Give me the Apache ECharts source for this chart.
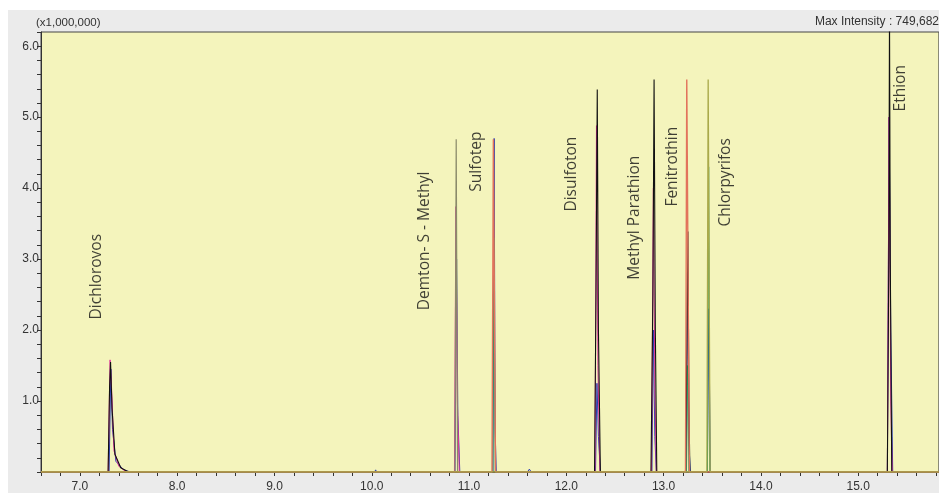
<!DOCTYPE html>
<html>
<head>
<meta charset="utf-8">
<script src="https://cdn.jsdelivr.net/npm/echarts@6/dist/echarts.min.js"></script>
<style>
	html, body { margin: 0; padding: 0; background: #fff; }
	#chart { width: 939px; height: 493px; }
</style>
</head>
<body>
<div id="chart"></div>
<script>
// retention time (min) vs intensity (x1,000,000), one array per trace colour
const blackTrace = [
	[6.6, 0], [7.29, 0], [7.305, 1.2], [7.315, 1.55], [7.33, 0.9], [7.36, 0.25], [7.42, 0.06], [7.5, 0],
	[12.29, 0], [12.305, 2.5], [12.318, 5.39], [12.33, 2.0], [12.35, 0],
	[12.87, 0], [12.89, 2.5], [12.902, 5.53], [12.915, 2.0], [12.93, 0],
	[13.225, 0], [13.24, 1.8], [13.25, 3.39], [13.26, 1.0], [13.27, 0],
	[15.3, 0], [15.315, 3.0], [15.322, 6.5], [15.33, 3.0], [15.345, 0], [15.83, 0]
]
const pinkTrace = [
	[6.6, 0], [7.29, 0], [7.31, 1.58], [7.325, 1.2], [7.35, 0.3], [7.4, 0.08], [7.48, 0],
	[9.92, 0], [9.93, 0.02], [9.94, 0],
	[10.85, 0], [10.865, 3.74], [10.88, 1.0], [10.9, 0],
	[12.295, 0], [12.31, 4.88], [12.325, 1.5], [12.345, 0],
	[12.875, 0], [12.895, 4.0], [12.91, 1.2], [12.925, 0],
	[15.3, 0], [15.318, 5.0], [15.335, 1.0], [15.35, 0], [15.83, 0]
]
const blueTrace = [
	[6.6, 0], [7.3, 0], [7.318, 1.45], [7.335, 0.6], [7.37, 0.15], [7.45, 0.03], [7.52, 0],
	[10.03, 0], [10.04, 0.03], [10.05, 0],
	[10.855, 0], [10.872, 3.0], [10.885, 0.8], [10.905, 0],
	[11.245, 0], [11.258, 4.7], [11.268, 0.6], [11.28, 0],
	[11.6, 0], [11.62, 0.04], [11.64, 0],
	[12.3, 0], [12.315, 1.25], [12.33, 0.5], [12.35, 0],
	[12.88, 0], [12.895, 2.0], [12.91, 0.5], [12.925, 0],
	[13.23, 0], [13.245, 2.8], [13.26, 0.4], [13.275, 0],
	[13.45, 0], [13.465, 2.3], [13.48, 0],
	[14.07, 0], [14.08, 0.02], [14.09, 0],
	[15.3, 0], [15.318, 5.0], [15.335, 2.0], [15.355, 0], [15.83, 0]
]
const redTrace = [
	[6.6, 0], [11.236, 0], [11.25, 4.69], [11.262, 4.69], [11.272, 0],
	[13.225, 0], [13.238, 5.53], [13.25, 5.53], [13.265, 0], [15.83, 0]
]
const oliveTrace = [
	[6.6, 0], [13.445, 0], [13.458, 5.53], [13.468, 5.53], [13.478, 0], [15.83, 0]
]
const greyTrace = [
	[6.6, 0], [10.855, 0], [10.868, 4.69], [10.882, 0], [15.83, 0]
]
const greenTrace = [
	[6.6, 0], [11.245, 0], [11.255, 3.3], [11.27, 0],
	[13.235, 0], [13.248, 1.5], [13.26, 0],
	[13.45, 0], [13.463, 4.3], [13.475, 0], [15.83, 0]
]

// compound annotations (text starts at labelY and runs upward)
const compounds = ['Dichlorovos', 'Demton- S - Methyl', 'Sulfotep', 'Disulfoton', 'Methyl Parathion', 'Fenitrothin', 'Chlorpyrifos', 'Ethion']
const labelX = [7.175, 10.546, 11.077, 12.053, 12.704, 13.095, 13.636, 15.438]
const labelY = [2.15, 2.28, 3.95, 3.67, 2.71, 3.74, 3.46, 5.08]

const xMin = 6.6
const xMax = 15.83
const yMax = 6.2

const isWhole = (v) => Math.abs(v - Math.round(v)) < 1e-6

const myChart = echarts.init(document.getElementById('chart'))

const trace = (data, color, width) => ({
	type: 'line',
	data: data,
	symbol: 'none',
	silent: true,
	clip: true,
	lineStyle: { color: color, width: width || 1 },
	z: 3
})

const option = {
	animation: false,
	backgroundColor: '#ebebeb',
	graphic: [
		{ type: 'rect', shape: { x: 0, y: 0, width: 939, height: 10 }, style: { fill: '#ffffff' }, z: -1 },
		{ type: 'rect', shape: { x: 0, y: 0, width: 8, height: 493 }, style: { fill: '#ffffff' }, z: -1 },
		{
			type: 'text', left: 36, top: 17,
			style: { text: '(x1,000,000)', fill: '#333', font: '11.5px "Liberation Sans", Arial, sans-serif' }
		},
		{
			type: 'text', right: 0, top: 16,
			style: { text: 'Max Intensity : 749,682', fill: '#333', font: '12px "Liberation Sans", Arial, sans-serif' }
		}
	],
	grid: {
		left: 41,
		right: -2,
		top: 32,
		bottom: 17,
		show: true,
		backgroundColor: '#f4f4bc',
		borderColor: '#444',
		borderWidth: 1
	},
	xAxis: {
		type: 'value',
		min: xMin,
		max: xMax,
		interval: 0.2,
		splitLine: { show: false },
		axisLine: { show: true, onZero: false, lineStyle: { color: '#333' } },
		axisTick: { show: true, length: 4, lineStyle: { color: '#333' } },
		axisLabel: {
			interval: 0,
			margin: 9,
			color: '#333',
			fontFamily: '"Liberation Sans", Arial, sans-serif',
			fontSize: 12,
			showMinLabel: true,
			showMaxLabel: false,
			formatter: (v) => isWhole(v) ? Math.round(v).toFixed(1) : ''
		}
	},
	yAxis: {
		type: 'value',
		min: 0,
		max: yMax,
		interval: 0.2,
		splitLine: { show: false },
		axisLine: { show: true, lineStyle: { color: '#333' } },
		axisTick: { show: true, length: 4, lineStyle: { color: '#333' } },
		axisLabel: {
			margin: 2,
			color: '#333',
			fontFamily: '"Liberation Sans", Arial, sans-serif',
			fontSize: 12,
			formatter: (v) => (isWhole(v) && v > 0) ? Math.round(v).toFixed(1) : ''
		}
	},
	series: [
		trace(blueTrace, '#2a3cb0', 1),
		trace(pinkTrace, '#e0309c', 1),
		trace(greenTrace, '#1f9a62', 1),
		trace(greyTrace, '#8a8a6a', 1.2),
		trace(blackTrace, '#111111', 1.1),
		trace(redTrace, '#e2735c', 1.4),
		trace(oliveTrace, '#a9a94a', 1.3),
		{
			type: 'scatter',
			data: labelX.map((x, i) => [x, labelY[i], compounds[i]]),
			symbolSize: 0,
			silent: true,
			z: 5,
			label: {
				show: true,
				position: 'inside',
				rotate: 90,
				align: 'left',
				verticalAlign: 'middle',
				color: '#111',
				fontFamily: '"Open Sans", "Noto Sans", sans-serif',
				fontSize: 15.5,
				formatter: (p) => p.data[2]
			}
		}
	]
}

myChart.setOption(option)
</script>
</body>
</html>
